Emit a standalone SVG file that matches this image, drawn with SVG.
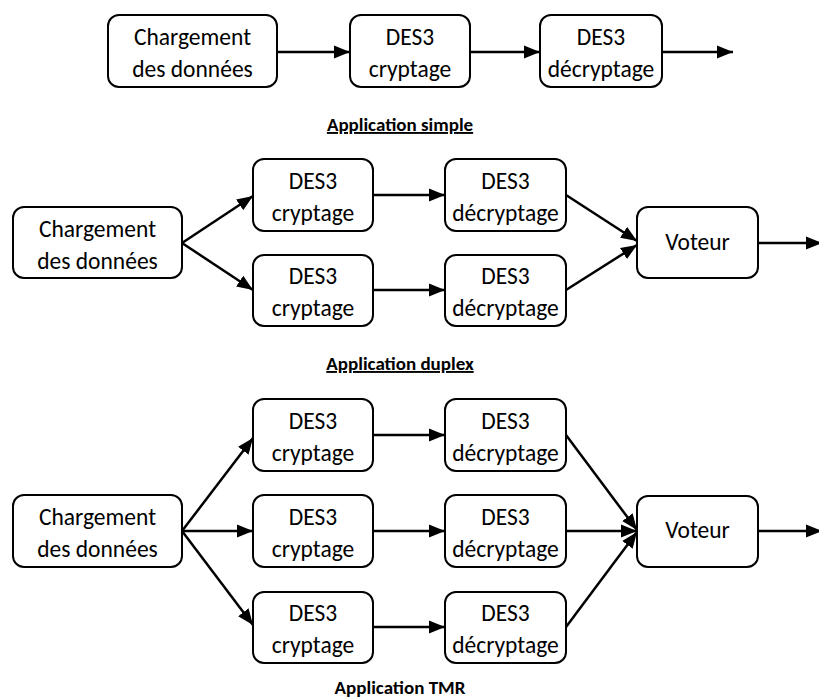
<svg xmlns="http://www.w3.org/2000/svg" width="819" height="700" viewBox="0 0 819 700">
<defs>
<marker id="ah" markerUnits="userSpaceOnUse" markerWidth="17" markerHeight="14" refX="16" refY="7" orient="auto">
<path d="M0,0.5 L16,7 L0,13.5 Z" fill="#000"/>
</marker>
<style>
.box{fill:#fff;stroke:#000;stroke-width:2}
.t{font-family:Carlito,Lato,"Noto Sans",sans-serif;font-size:23.5px;fill:#000;text-anchor:middle}
.cap{font-family:Carlito,Lato,"Noto Sans",sans-serif;font-size:19px;font-weight:bold;fill:#000;text-anchor:middle;text-decoration:underline}
.c{stroke:#000;stroke-width:2.5;fill:none;marker-end:url(#ah)}
</style>
</defs>
<rect width="819" height="700" fill="#fff"/>
<g id="connectors">
<line class="c" x1="277" y1="52" x2="350" y2="52"/>
<line class="c" x1="470" y1="52" x2="540" y2="52"/>
<line class="c" x1="662" y1="52" x2="733" y2="52"/>
<line class="c" x1="182" y1="243" x2="253" y2="196"/>
<line class="c" x1="182" y1="243" x2="253" y2="290"/>
<line class="c" x1="373" y1="195" x2="445" y2="195"/>
<line class="c" x1="373" y1="290" x2="445" y2="290"/>
<line class="c" x1="566" y1="195" x2="637" y2="241"/>
<line class="c" x1="566" y1="290" x2="637" y2="245"/>
<line class="c" x1="758" y1="243" x2="822" y2="243"/>
<line class="c" x1="182" y1="531" x2="253" y2="438"/>
<line class="c" x1="182" y1="531" x2="253" y2="531"/>
<line class="c" x1="182" y1="531" x2="253" y2="625"/>
<line class="c" x1="373" y1="435" x2="445" y2="435"/>
<line class="c" x1="373" y1="531" x2="445" y2="531"/>
<line class="c" x1="373" y1="627" x2="445" y2="627"/>
<line class="c" x1="566" y1="435" x2="637" y2="530"/>
<line class="c" x1="566" y1="531" x2="637" y2="531"/>
<line class="c" x1="566" y1="627" x2="637" y2="532"/>
<line class="c" x1="758" y1="531" x2="822" y2="531"/>
</g>
<!-- simple -->
<g id="s_load"><rect class="box" x="108" y="15" width="169" height="72" rx="11"/><text class="t" x="192.5" y="45">Chargement</text><text class="t" x="192.5" y="77">des données</text></g>
<g id="s_enc"><rect class="box" x="350" y="15" width="120" height="72" rx="11"/><text class="t" x="410" y="45">DES3</text><text class="t" x="410" y="77">cryptage</text></g>
<g id="s_dec"><rect class="box" x="540" y="15" width="122" height="72" rx="11"/><text class="t" x="601" y="45">DES3</text><text class="t" x="601" y="77">décryptage</text></g>
<text class="cap" x="400" y="131">Application simple</text>
<!-- duplex -->
<g id="d_load"><rect class="box" x="13" y="207" width="169" height="71" rx="11"/><text class="t" x="97.5" y="237">Chargement</text><text class="t" x="97.5" y="269">des données</text></g>
<g id="d_enc1"><rect class="box" x="253" y="159" width="120" height="72" rx="11"/><text class="t" x="313" y="189">DES3</text><text class="t" x="313" y="221">cryptage</text></g>
<g id="d_enc2"><rect class="box" x="253" y="255" width="120" height="71" rx="11"/><text class="t" x="313" y="284">DES3</text><text class="t" x="313" y="316">cryptage</text></g>
<g id="d_dec1"><rect class="box" x="445" y="159" width="121" height="72" rx="11"/><text class="t" x="505.5" y="189">DES3</text><text class="t" x="505.5" y="221">décryptage</text></g>
<g id="d_dec2"><rect class="box" x="445" y="255" width="121" height="71" rx="11"/><text class="t" x="505.5" y="284">DES3</text><text class="t" x="505.5" y="316">décryptage</text></g>
<g id="d_vote"><rect class="box" x="637" y="207" width="121" height="71" rx="11"/><text class="t" x="697.5" y="250">Voteur</text></g>
<text class="cap" x="400" y="370">Application duplex</text>
<!-- TMR -->
<g id="t_load"><rect class="box" x="13" y="495" width="169" height="72" rx="11"/><text class="t" x="97.5" y="525">Chargement</text><text class="t" x="97.5" y="557">des données</text></g>
<g id="t_enc1"><rect class="box" x="253" y="399" width="120" height="72" rx="11"/><text class="t" x="313" y="429">DES3</text><text class="t" x="313" y="461">cryptage</text></g>
<g id="t_enc2"><rect class="box" x="253" y="495" width="120" height="72" rx="11"/><text class="t" x="313" y="525">DES3</text><text class="t" x="313" y="557">cryptage</text></g>
<g id="t_enc3"><rect class="box" x="253" y="592" width="120" height="71" rx="11"/><text class="t" x="313" y="621">DES3</text><text class="t" x="313" y="653">cryptage</text></g>
<g id="t_dec1"><rect class="box" x="445" y="399" width="121" height="72" rx="11"/><text class="t" x="505.5" y="429">DES3</text><text class="t" x="505.5" y="461">décryptage</text></g>
<g id="t_dec2"><rect class="box" x="445" y="495" width="121" height="72" rx="11"/><text class="t" x="505.5" y="525">DES3</text><text class="t" x="505.5" y="557">décryptage</text></g>
<g id="t_dec3"><rect class="box" x="445" y="592" width="121" height="71" rx="11"/><text class="t" x="505.5" y="621">DES3</text><text class="t" x="505.5" y="653">décryptage</text></g>
<g id="t_vote"><rect class="box" x="637" y="496" width="121" height="71" rx="11"/><text class="t" x="697.5" y="538">Voteur</text></g>
<text class="cap" x="400" y="694" style="text-decoration:none">Application TMR</text>
</svg>
